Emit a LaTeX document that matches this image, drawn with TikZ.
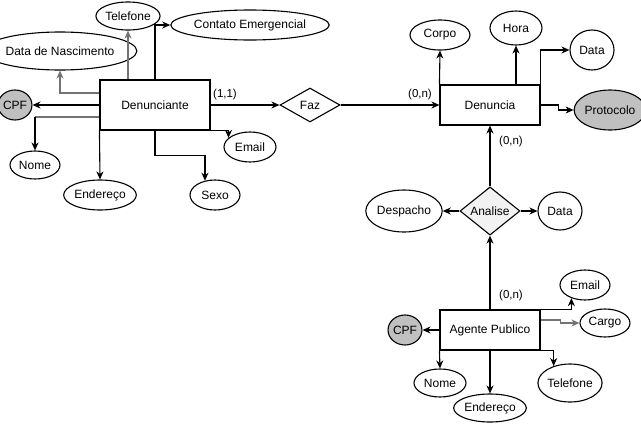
\documentclass[tikz,border=0pt]{standalone}
\usepackage{fontspec}
\setmainfont{Liberation Sans}
\usetikzlibrary{shapes.geometric,arrows.meta}
\definecolor{keygray}{RGB}{192,192,192}
\definecolor{linegray}{RGB}{115,115,115}
\definecolor{relgray}{RGB}{242,242,242}
\begin{document}
\begin{tikzpicture}[x=1pt,y=-1pt,
  font=\fontsize{12}{14}\selectfont,
  line width=1.1pt,
  ent/.style={draw, fill=white, rectangle, inner sep=0pt},
  attr/.style={draw, fill=white, ellipse, inner sep=0pt},
  keyattr/.style={attr, fill=keygray},
  rel/.style={draw, fill=white, diamond, inner sep=0pt},
  arr/.style={-{Stealth[length=8pt,width=7pt,inset=2.5pt]}},
  gline/.style={draw=linegray},
  card/.style={inner sep=0pt, font=\fontsize{11.5}{13}\selectfont}]
\useasboundingbox (0,0) rectangle (641,426);

% Denunciante
\node[ent, minimum width=110pt, minimum height=50pt] (den) at (155,105) {Denunciante};
\node[attr, minimum width=50pt, minimum height=28pt] (tel1) at (128,16) {Telefone};
\node[attr, minimum width=140pt, minimum height=30pt] (ce) at (250,25) {Contato Emergencial};
\node[attr, minimum width=120pt, minimum height=38pt] (dn) at (60,51) {Data de Nascimento};
\node[keyattr, minimum width=30pt, minimum height=30pt] (cpf1) at (15,105) {CPF};
\node[attr, minimum width=50pt, minimum height=28pt] (nome1) at (35,165) {Nome};
\node[attr, minimum width=60pt, minimum height=30pt] (end1) at (100,195) {Endereço};
\node[attr, minimum width=50pt, minimum height=30pt] (sexo) at (215,195) {Sexo};
\node[attr, minimum width=52pt, minimum height=30pt] (email1) at (250,147) {Email};

% Faz
\node[rel, minimum width=60pt, minimum height=34pt] (faz) at (310,105) {Faz};

% Denuncia
\node[ent, minimum width=100pt, minimum height=40pt] (dnc) at (490,105) {Denuncia};
\node[attr, minimum width=60pt, minimum height=30pt] (corpo) at (440,35) {Corpo};
\node[attr, minimum width=52pt, minimum height=34pt] (hora) at (516,28) {Hora};
\node[attr, minimum width=44pt, minimum height=40pt] (data1) at (592,50) {Data};
\node[keyattr, minimum width=61pt, minimum height=40pt] (prot) at (610,110) {Protocolo};

% Analise
\node[rel, fill=relgray, minimum width=60pt, minimum height=42pt] (ana) at (490,211) {Analise};
\node[attr, minimum width=68pt, minimum height=42pt] (desp) at (404,211) {Despacho};
\node[attr, minimum width=44pt, minimum height=38pt] (data2) at (560,211) {Data};

% Agente Publico
\node[ent, minimum width=100pt, minimum height=40pt] (ag) at (490,330) {Agente Publico};
\node[keyattr, minimum width=30pt, minimum height=30pt] (cpf2) at (405,330) {CPF};
\node[attr, minimum width=50pt, minimum height=30pt] (email2) at (585,285) {Email};
\node[attr, minimum width=50pt, minimum height=28pt] (cargo) at (605,323) {Cargo};
\node[attr, minimum width=52pt, minimum height=28pt] (nome2) at (440,383) {Nome};
\node[attr, minimum width=68pt, minimum height=28pt] (end2) at (490,408) {Endereço};
\node[attr, minimum width=60pt, minimum height=38pt] (tel2) at (570,383) {Telefone};

% cardinalities
\node[card] (c1) at (225,95) {(1,1)};
\node[card] (c2) at (420,95) {(0,n)};
\node[card] (c3) at (511,142) {(0,n)};
\node[card] (c4) at (511,296) {(0,n)};

% Denunciante connectors
\draw[arr, gline] (tel1.south |- den.north) -- (tel1.south);
\draw[arr] (den.north) |- (ce.west);
\coordinate (dnA) at ([yshift=12pt]den.west);
\draw[arr, gline] (dnA) -| (dn.south);
\draw[arr] (den.west) -- (cpf1.east);
\coordinate (nmA) at ([yshift=-12pt]den.west);
\coordinate (nmB) at (nmA -| nome1.north);
\draw[gline] (nmA) -- (nmB);
\draw[arr] (nmB) -- (nome1.north);
\draw[arr] (den.south west) -- (end1.north);
\coordinate (sxA) at ([yshift=-25pt]den.south);
\draw[arr] (den.south) -- (sxA) -| (sexo.125);
\draw[arr] (den.south east) -| (email1.157);
\draw[arr] (den.east) -- (faz.west);
\draw[arr] (faz.east) -- (dnc.west);

% Denuncia connectors
\draw[arr] (dnc.north west) -- (corpo.south);
\draw[arr] (hora.south |- dnc.north) -- (hora.south);
\draw[arr] (dnc.north east) |- (data1.west);
\coordinate (prA) at ([xshift=18pt]dnc.east);
\draw[arr] (dnc.east) -- (prA) |- (prot.west);

% Analise connectors
\draw[arr] (ana.north) -- (dnc.south);
\draw[arr] (ana.west) -- (desp.east);
\draw[arr] (ana.east) -- (data2.west);
\draw[arr] (ag.north) -- (ana.south);

% Agente Publico connectors
\draw[arr] (ag.west) -- (cpf2.east);
\draw[arr] (ag.north east) -| (email2.224);
\coordinate (cgA) at ([yshift=10pt]ag.east);
\coordinate (cgB) at ([xshift=20pt]cgA);
\draw[arr, gline] (cgA) -- (cgB) |- (cargo.west);
\draw[arr] (ag.south west) -- (nome2.north);
\draw[arr] (ag.south) -- (end2.north);
\draw[arr] (ag.south east) -| (tel2.134);
\end{tikzpicture}
\end{document}
